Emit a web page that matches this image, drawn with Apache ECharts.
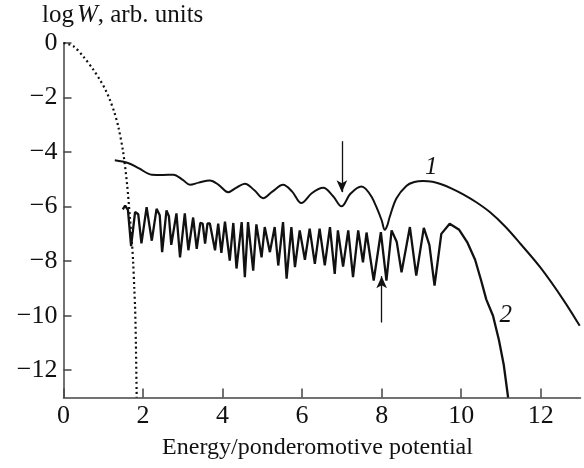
<!DOCTYPE html>
<html>
<head>
<meta charset="utf-8">
<script src="https://cdn.jsdelivr.net/npm/echarts@6/dist/echarts.min.js"></script>
<style>html,body{margin:0;padding:0;background:#fff}#c{width:584px;height:468px}</style>
</head>
<body>
<div id="c"></div>
<script>
// Curve 1
var c1x = [1.29,1.62,1.90,2.22,2.50,2.76,3.00,3.18,3.40,3.68,3.90,4.14,4.35,4.56,4.80,5.02,5.25,5.52,5.75,5.98,6.25,6.53,6.78,6.99,7.22,7.49,7.60,7.75,7.87,8.00,8.08,8.14,8.20,8.37,8.62,8.82,9.04,9.28,9.50,9.75,10.05,10.38,10.72,11.10,11.50,12.00,12.56,12.98];
var c1y = [-4.30,-4.40,-4.60,-4.83,-4.84,-4.83,-5.02,-5.20,-5.12,-5.04,-5.20,-5.47,-5.30,-5.16,-5.40,-5.69,-5.45,-5.20,-5.45,-5.87,-5.50,-5.31,-5.62,-5.99,-5.52,-5.26,-5.35,-5.65,-6.02,-6.50,-6.85,-6.70,-6.39,-5.70,-5.24,-5.10,-5.06,-5.09,-5.18,-5.33,-5.55,-5.84,-6.20,-6.72,-7.38,-8.25,-9.40,-10.37];
// Curve 2
var c2x = [1.49,1.55,1.62,1.70,1.80,1.88,1.96,2.09,2.22,2.34,2.42,2.48,2.59,2.65,2.71,2.84,2.93,3.05,3.14,3.26,3.35,3.44,3.50,3.56,3.62,3.68,3.81,3.89,3.97,4.06,4.18,4.27,4.35,4.48,4.56,4.64,4.77,4.85,4.98,5.06,5.19,5.31,5.40,5.52,5.61,5.73,5.82,5.94,6.07,6.19,6.32,6.44,6.57,6.70,6.82,6.90,7.03,7.16,7.28,7.41,7.53,7.62,7.80,7.98,8.12,8.25,8.38,8.50,8.71,8.87,9.06,9.20,9.33,9.50,9.71,9.95,10.15,10.35,10.50,10.63,10.80,10.95,11.07,11.18];
var c2y = [-6.10,-5.96,-6.12,-7.45,-6.20,-6.28,-7.35,-6.02,-7.25,-6.08,-6.32,-7.67,-6.14,-6.35,-7.40,-6.25,-7.86,-6.25,-7.60,-6.40,-7.55,-6.60,-6.62,-7.36,-6.62,-6.62,-7.60,-6.62,-7.70,-6.55,-7.98,-6.60,-8.27,-6.57,-8.59,-6.57,-8.35,-6.65,-7.86,-6.75,-7.67,-6.75,-8.16,-6.57,-8.64,-6.75,-8.22,-6.87,-7.95,-6.81,-8.10,-6.81,-8.15,-6.75,-8.47,-6.87,-8.20,-6.87,-8.59,-6.87,-8.04,-6.95,-8.71,-6.94,-8.71,-6.87,-7.30,-8.41,-6.75,-8.53,-6.78,-7.40,-8.90,-7.00,-6.63,-6.85,-7.30,-7.95,-8.70,-9.40,-10.00,-10.90,-11.80,-13.00];
// Dotted curve
var c3x = [0,0.25,0.50,0.75,0.92,1.05,1.17,1.28,1.38,1.50,1.60,1.67,1.72,1.75,1.78,1.80,1.82,1.84];
var c3y = [0,-0.12,-0.50,-0.98,-1.36,-1.70,-2.10,-2.55,-3.08,-4.00,-5.20,-6.40,-7.30,-8.00,-9.00,-9.70,-11.00,-13.00];
// Ticks
var xTicks = [0,2,4,6,8,10,12];
var yTicks = [0,-2,-4,-6,-8,-10,-12];
// Arrows and curve labels (data coords)
var arrow1 = [[7,-3.6],[7,-5.47]];
var arrow2 = [[8,-10.25],[8,-8.55]];
var label1 = [9.25,-4.55];
var label2 = [11.12,-10.0];

function pairs(xs, ys){ return xs.map(function(x,i){ return [x, ys[i]]; }); }
var FONT = 'Liberation Serif';
var axisCol = '#444';
var chart = echarts.init(document.getElementById('c'), null, {renderer:'canvas'});
chart.setOption({
  animation: false,
  backgroundColor: '#fff',
  grid: {left: 63.5, right: 3.5, top: 43, bottom: 70.5, containLabel: false},
  xAxis: {
    type: 'value', min: 0, max: 13,
    name: 'Energy/ponderomotive potential', nameLocation: 'middle', nameGap: 38,
    nameTextStyle: {fontFamily: FONT, fontSize: 24, color: '#111', padding: [0, 9, 0, 0]},
    axisLine: {show: true, onZero: false, lineStyle: {color: axisCol, width: 1.5}},
    axisTick: {show: true, inside: true, length: 9, customValues: xTicks, lineStyle: {color: axisCol, width: 1.5}},
    axisLabel: {customValues: xTicks, fontFamily: FONT, fontSize: 26, color: '#111', margin: 6},
    splitLine: {show: false}
  },
  yAxis: {
    type: 'value', min: -13, max: 0,
    axisLine: {show: true, onZero: false, lineStyle: {color: axisCol, width: 1.5}},
    axisTick: {show: true, inside: true, length: 8, customValues: yTicks, lineStyle: {color: axisCol, width: 1.5}},
    axisLabel: {customValues: yTicks, fontFamily: FONT, fontSize: 26, color: '#111', margin: 6,
      formatter: function(v){ return String(v).replace('-', '\u2212'); }},
    splitLine: {show: false}
  },
  graphic: [{
    type: 'text', left: 42, top: 3,
    style: {
      text: '{a|log}{b|W}{a|, arb. units}',
      rich: {
        a: {fontFamily: FONT, fontSize: 25, fill: '#111'},
        b: {fontFamily: FONT, fontSize: 25, fontStyle: 'italic', fill: '#111', padding: [0,0,0,3]}
      }
    }
  }],
  series: [
    {
      type: 'line', data: pairs(c3x, c3y), showSymbol: false, smooth: 0.3,
      lineStyle: {color: '#111', width: 2.2, type: [2, 3]}
    },
    {
      type: 'line', data: pairs(c1x, c1y), showSymbol: false, smooth: 0.35,
      lineStyle: {color: '#111', width: 2},
      markLine: {
        silent: true, symbol: ['none', 'arrow'], symbolSize: [8, 12],
        lineStyle: {color: '#111', width: 1.3, type: 'solid'},
        label: {show: false},
        data: [
          [{coord: arrow1[0]}, {coord: arrow1[1]}],
          [{coord: arrow2[0]}, {coord: arrow2[1]}]
        ]
      },
      markPoint: {
        silent: true, symbol: 'circle', symbolSize: 0,
        label: {show: true, position: 'inside', fontFamily: FONT, fontSize: 25, fontStyle: 'italic', color: '#111'},
        data: [
          {coord: label1, value: '1', label: {formatter: '1'}},
          {coord: label2, value: '2', label: {formatter: '2'}}
        ]
      }
    },
    {
      type: 'line', data: pairs(c2x, c2y), showSymbol: false,
      lineStyle: {color: '#111', width: 2.3}
    }
  ]
});
</script>
</body>
</html>
